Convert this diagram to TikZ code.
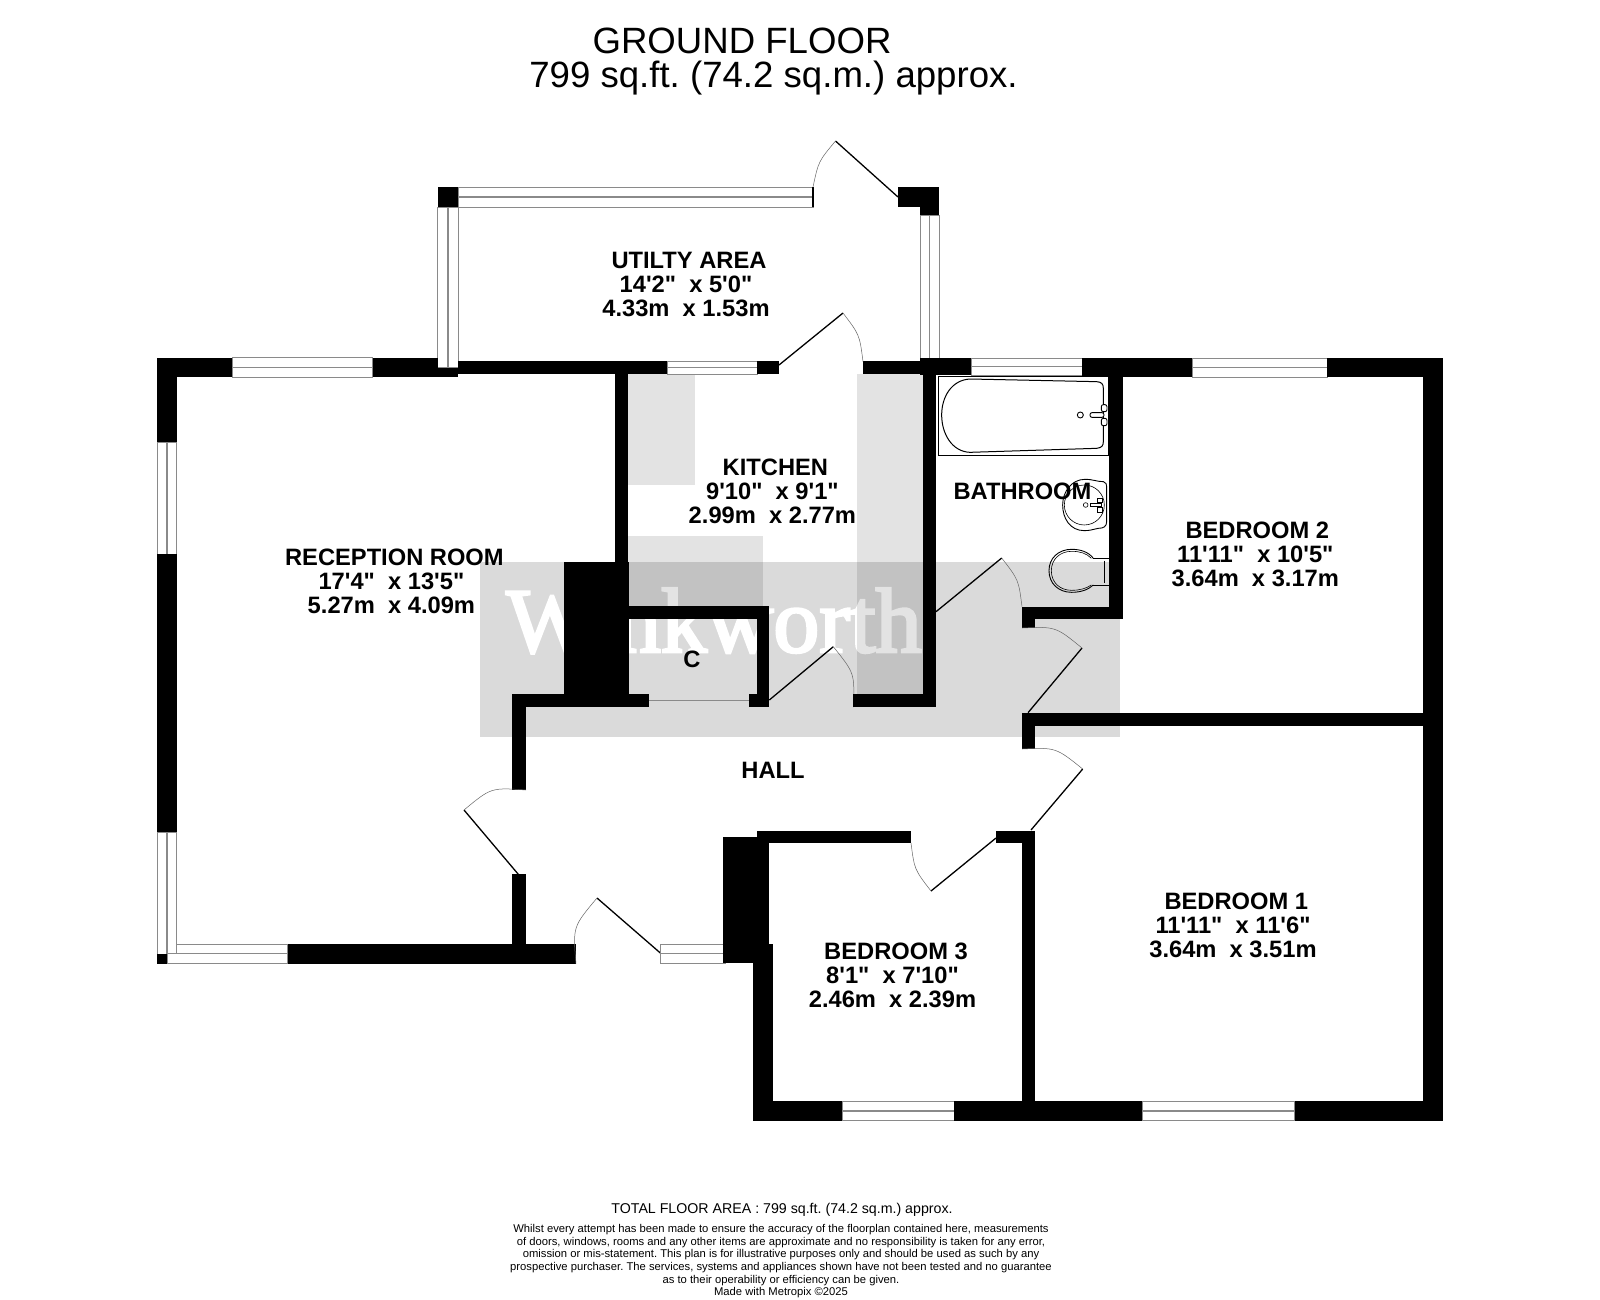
\documentclass[tikz,border=0pt]{standalone}
\usepackage{fontspec}
\newfontfamily\fpsans{Liberation Sans}
\newfontfamily\fpserif[FakeBold=3]{Liberation Serif}
\definecolor{unitgrey}{HTML}{E3E3E3}
\definecolor{wingrey}{HTML}{8A8A8A}
\definecolor{markgrey}{HTML}{DADADA}
\tikzset{
  wallfill/.style={fill=black,draw=none},
  winframe/.style={fill=white,draw=wingrey,line width=1pt},
  winbar/.style={draw=wingrey,line width=1.5pt},
  leaf/.style={draw=black,line width=1.3pt},
  swing/.style={draw=black!60,line width=.5pt},
  fixture/.style={draw=black,line width=.9pt},
  roomlabel/.style={inner sep=0pt,align=center,font=\fpsans\bfseries\fontsize{23.7}{24}\selectfont},
  title/.style={inner sep=0pt,font=\fpsans\frenchspacing\fontsize{36.6}{36}\selectfont},
}
\newcommand\fpW[4]{\fill[wallfill] (#1,#2) rectangle (#3,#4);}
\newcommand\fpH[4]{\draw[winframe] (#1,#2) rectangle (#3,#4); \draw[winbar] (#1,{(#2+#4)/2}) -- (#3,{(#2+#4)/2});}
\newcommand\fpV[4]{\draw[winframe] (#1,#2) rectangle (#3,#4); \draw[winbar] ({(#1+#3)/2},#2) -- ({(#1+#3)/2},#4);}
\newcommand\fpDoor[6]{%
  \pgfmathsetmacro\fpmx{(#3+#5)/2-#1}%
  \pgfmathsetmacro\fpmy{(#4+#6)/2-#2}%
  \pgfmathsetmacro\fprr{(#3-#1)*(#3-#1)+(#4-#2)*(#4-#2)}%
  \pgfmathsetmacro\fpdd{\fpmx*\fpmx+\fpmy*\fpmy}%
  \pgfmathsetmacro\fpk{\fprr/\fpdd}%
  \draw[leaf] (#1,#2) -- (#3,#4);
  \draw[swing] (#3,#4) .. controls ({#1+\fpmx*\fpk},{#2+\fpmy*\fpk}) .. (#5,#6);}
\begin{document}
\begin{tikzpicture}[x=1pt,y=-1pt]
\useasboundingbox (0,0) rectangle (1600,1299);
\fill[white] (0,0) rectangle (1600,1299);
% watermark
\fill[markgrey] (480,562.3) rectangle (1120,736.7);
\node[anchor=base west,inner sep=0pt,text=white,font=\fpserif\fontsize{92}{92}\selectfont] (mark) at (506,652) {Winkworth};
% kitchen units, multiplied over the watermark
\fill[unitgrey,blend mode=multiply] (628,374) rectangle (695,485);
\fill[unitgrey,blend mode=multiply] (628,536) rectangle (763,610);
\fill[unitgrey,blend mode=multiply] (857,374) rectangle (923,700);
% utility area
\fpH{458}{187}{813}{207}
\fill[black] (812,187) rectangle (814,207);
\fpV{437.7}{207}{458.3}{367.7}
\fpV{920}{215}{939}{358}
\fpW{438}{187}{458}{207}
\fpW{898}{187}{939}{207}
\fpW{920}{207}{939}{215}
\fpDoor{898}{197}{835.5}{141}{813}{187}
% reception
\fpW{157.3}{357.7}{232.3}{377.3}
\fpH{232.3}{357.7}{372.7}{377.3}
\fpW{372.7}{357.7}{437.7}{377.3}
\fpW{437.7}{367.7}{458.3}{377.3}
\fpW{157.3}{357.7}{176.7}{442.3}
\fpV{157.3}{442.3}{176.7}{554.3}
\fpW{157.3}{554.3}{176.7}{832.7}
\fpV{157.3}{832.7}{176.7}{954}
\draw[winframe] (176.7,944.3) rectangle (287.7,953.8);
\draw[winframe] (167.3,953.8) rectangle (287.7,963.7);
\fpW{157.3}{954}{167.3}{963.7}
\fpW{287.7}{943.7}{576}{963.7}
% hall
\fpW{512.3}{693.7}{525.7}{790}
\fpW{512.3}{874.3}{525.7}{964}
\fpW{512.3}{693.7}{649}{707.3}
\fpDoor{518.3}{874.3}{464}{810}{526}{790}
\fpDoor{660.7}{953.3}{597}{898}{576}{963.7}
\fpH{660.7}{944}{725.7}{963.3}
% upper thin wall
\fpW{458}{361}{667}{374}
\fpH{667}{361}{757}{374}
\fpW{757}{361}{779}{374}
\fpW{863}{361}{971}{374}
\fpDoor{779}{365}{843}{313}{863}{361.6}
% kitchen
\fpW{615}{361}{627.7}{565}
\fpW{564.3}{562.3}{629}{694}
\fpW{629}{606}{769.3}{619.3}
\fpW{756.7}{606}{769.3}{707.3}
\fpW{749}{693.7}{769.3}{707.3}
\draw[draw=wingrey,line width=1pt] (649,700.7) -- (749,700.7);
\fpDoor{769.3}{700}{833.3}{646.7}{853.3}{707}
\fpW{853.3}{693.7}{936}{707.3}
% bathroom
\fpW{922.7}{361}{936}{707.3}
\fpW{920}{358}{971}{375}
\fpH{971}{358}{1082}{375}
\fpW{1082}{358}{1192}{377}
\fpW{1109.3}{358}{1122.5}{619}
\fpW{1021.7}{606.7}{1122.5}{619}
\fpW{1021.7}{606.7}{1035}{628}
\fpDoor{936}{611.7}{1001.7}{558}{1022}{606.7}
% bedroom 2
\fpH{1192}{358}{1327}{377}
\fpW{1327}{358}{1443}{377}
\fpW{1423}{358}{1443}{1120.7}
\fpW{1022}{712.7}{1443}{726}
\fpW{1022}{712.7}{1035}{749}
\fpDoor{1028}{712.7}{1082}{648}{1022}{628}
% bedroom 1
\fpDoor{1031}{830}{1082.7}{769}{1022}{749}
\fpW{1022}{830.5}{1035}{1120.7}
\fpW{1022}{1101}{1142.7}{1120.7}
\fpH{1142.7}{1101}{1294.7}{1120.7}
\fpW{1294.7}{1101}{1443}{1120.7}
% bedroom 3
\fpW{756.7}{830.7}{911}{843.3}
\fpW{996}{830.7}{1035}{843.3}
\fpW{756.7}{830.7}{769.3}{950}
\fpW{722.7}{837.3}{756.7}{963.3}
\fpW{752.7}{944}{772.7}{1120.7}
\fpW{752.7}{1101}{842}{1120.7}
\fpH{842}{1101}{954}{1120.7}
\fpW{954}{1101}{1022}{1120.7}
\fpDoor{996}{838}{931}{891}{911}{843}
% fixtures
\begin{scope}[shift={(900,340)},x=.3333pt,y=-.3333pt]
\draw[fixture] (115,108) rectangle (625,345);
\draw[fixture,line width=1pt] (210,117) -- (590,125) .. controls (605,126) and (610,132) .. (610,145) -- (610,305) .. controls (610,318) and (605,323) .. (590,325) -- (210,337) .. controls (155,335) and (125,280) .. (125,225) .. controls (125,170) and (155,120) .. (210,117) -- cycle;
\draw[fixture] (541,225) circle (9);
\draw[fixture,fill=white,rounded corners=2] (570,218) rectangle (612,232);
\draw[fixture,fill=white,rounded corners=2] (604,194) rectangle (621,215);
\draw[fixture,fill=white,rounded corners=2] (604,235) rectangle (621,257);
\draw[fixture] (555,418) .. controls (580,418) and (590,425) .. (610,425) .. controls (618,426) and (620,432) .. (620,445) -- (620,545) .. controls (620,560) and (610,565) .. (595,565) .. controls (580,568) and (570,572) .. (553,572) .. controls (510,572) and (488,535) .. (488,495) .. controls (488,455) and (515,418) .. (555,418) -- cycle;
\draw[fixture,line width=.6pt] (553,495) circle (60);
\draw[fixture,line width=.6pt] (557,495) circle (7);
\draw[fixture,line width=.6pt] (570,490) rectangle (605,500);
\draw[fixture,line width=.6pt] (593,474) rectangle (607,488);
\draw[fixture,line width=.6pt] (593,503) rectangle (607,516);
\draw[fixture] (580,655) .. controls (565,635) and (540,628) .. (515,628) .. controls (475,628) and (447,655) .. (447,692) .. controls (447,730) and (475,757) .. (515,757) .. controls (540,757) and (565,750) .. (580,735);
\draw[fixture,line width=.6pt] (574,655) .. controls (560,640) and (540,634) .. (515,634) .. controls (480,634) and (454,658) .. (454,692) .. controls (454,728) and (480,751) .. (515,751) .. controls (540,751) and (560,745) .. (574,735);
\draw[fixture,line width=.7pt] (580,655) -- (627,655) (580,735) -- (627,735) (612,662) -- (612,728);
\end{scope}
% labels
\node[roomlabel] (utility) at (686,284.5) {\hspace*{6pt}UTILTY AREA\\14'2"\ \ x 5'0"\\4.33m\ \ x 1.53m};
\node[roomlabel] (kitchen) at (772.4,491) {\hspace*{6pt}KITCHEN\\9'10"\ \ x 9'1"\\2.99m\ \ x 2.77m};
\node[roomlabel] (bathroom) at (1022.5,491.7) {BATHROOM};
\node[roomlabel] (bedtwo) at (1255.3,554) {\hspace*{4pt}BEDROOM 2\\11'11"\ \ x 10'5"\\3.64m\ \ x 3.17m};
\node[roomlabel] (reception) at (391.4,581.5) {\hspace*{6pt}RECEPTION ROOM\\17'4"\ \ x 13'5"\\5.27m\ \ x 4.09m};
\node[roomlabel] (cupboard) at (692,659) {C};
\node[roomlabel] (hall) at (773,770) {HALL};
\node[roomlabel] (bedthree) at (892.5,975) {\hspace*{7pt}BEDROOM 3\\8'1"\ \ x 7'10"\\2.46m\ \ x 2.39m};
\node[roomlabel] (bedone) at (1233,925) {\hspace*{6.5pt}BEDROOM 1\\11'11"\ \ x 11'6"\\3.64m\ \ x 3.51m};
% titles
\node[title] (floor) at (742,41) {GROUND FLOOR};
\node[title] (area) at (773.5,78) {799 sq.ft. (74.2 sq.m.) approx.};
% footer
\node[inner sep=0pt,font=\fpsans\frenchspacing\fontsize{14.2}{14}\selectfont] (total) at (782,1210) {TOTAL FLOOR AREA : 799 sq.ft. (74.2 sq.m.) approx.};
\node[inner sep=0pt,align=center,anchor=north,font=\fpsans\frenchspacing\fontsize{11.25}{12.55}\selectfont] (disclaimer) at (781,1224.5) {Whilst every attempt has been made to ensure the accuracy of the floorplan contained here, measurements\\of doors, windows, rooms and any other items are approximate and no responsibility is taken for any error,\\omission or mis-statement. This plan is for illustrative purposes only and should be used as such by any\\prospective purchaser. The services, systems and appliances shown have not been tested and no guarantee\\as to their operability or efficiency can be given.\\Made with Metropix ©2025};
\end{tikzpicture}
\end{document}
